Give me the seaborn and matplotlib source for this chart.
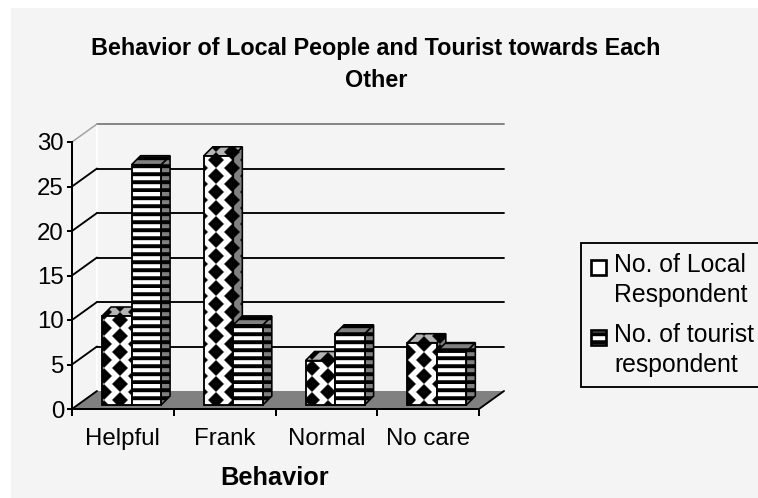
import matplotlib
matplotlib.use("Agg")
import matplotlib.pyplot as plt
import matplotlib.hatch as mhatch
import numpy as np
import pandas as pd
import seaborn as sns
from matplotlib.legend_handler import HandlerPatch
from matplotlib.patches import Patch, Polygon, Rectangle
from matplotlib.path import Path
from matplotlib.transforms import ScaledTranslation

categories = ["Helpful", "Frank", "Normal", "No care"]
local_values = [10, 28, 5, 7]
tourist_values = [27, 9, 8, 6]
series_names = ["No. of Local\nRespondent", "No. of tourist\nrespondent"]
y_ticks = [0, 5, 10, 15, 20, 25, 30]
title = "Behavior of Local People and Tourist towards Each\nOther"
x_label = "Behavior"

DPI = 96
W, H = 758, 498
BG = "#f4f4f4"
GRAY = "#808080"


class DiamondHatch(mhatch.HatchPatternBase):
    """Lattice of filled diamonds, 16 px apart at 96 dpi."""
    filled = True

    def __init__(self, hatch, density):
        self.num = 6 if hatch.count("*") else 0
        self.centers = []
        if self.num:
            for i in range(self.num):
                for j in range(-1, self.num + 1):
                    self.centers.append(((i + 0.5) / self.num,
                                         (j + 0.5 + 0.5 * (i % 2)) / self.num))
        self.num_vertices = len(self.centers) * 5

    def set_vertices_and_codes(self, vertices, codes):
        r = 7.6 / DPI
        shape = np.array([[0, -r], [r, 0], [0, r], [-r, 0], [0, -r]])
        for k, c in enumerate(self.centers):
            vertices[k * 5:k * 5 + 5] = shape + c
            codes[k * 5:k * 5 + 5] = [Path.MOVETO, Path.LINETO, Path.LINETO,
                                      Path.LINETO, Path.CLOSEPOLY]


class StripeHatch(mhatch.HatchPatternBase):
    """Horizontal filled stripes, 8 px period at 96 dpi."""
    filled = True

    def __init__(self, hatch, density):
        self.num = 12 if hatch.count("-") else 0
        self.num_vertices = self.num * 5

    def set_vertices_and_codes(self, vertices, codes):
        for k in range(self.num):
            y0 = k / self.num
            y1 = (k + 0.45) / self.num
            vertices[k * 5:k * 5 + 5] = [[0, y0], [1, y0], [1, y1], [0, y1], [0, y0]]
            codes[k * 5:k * 5 + 5] = [Path.MOVETO, Path.LINETO, Path.LINETO,
                                      Path.LINETO, Path.CLOSEPOLY]


mhatch._hatch_types[:] = [DiamondHatch, StripeHatch]

sns.set_theme(style="white")
plt.rcParams["font.family"] = ["Liberation Sans", "DejaVu Sans"]
plt.rcParams["hatch.linewidth"] = 0.3

fig = plt.figure(figsize=(W / DPI, H / DPI), dpi=DPI, facecolor="white")
fig.add_artist(Rectangle((11 / W, 0), 1 - 11 / W, 1 - 8 / H, transform=fig.transFigure,
                         facecolor=BG, edgecolor="none", zorder=-5))

AX_L, AX_R, AX_T, AX_B = 72, 479, 142, 409
ax = fig.add_axes([AX_L / W, 1 - AX_B / H, (AX_R - AX_L) / W, (AX_B - AX_T) / H])
ax.patch.set_alpha(0)

df = pd.DataFrame({
    "Behavior": categories * 2,
    "Count": local_values + tourist_values,
    "Series": [series_names[0]] * 4 + [series_names[1]] * 4,
})
sns.barplot(data=df, x="Behavior", y="Count", hue="Series", ax=ax, width=0.58, gap=0,
            palette=["white", "white"], legend=False, saturation=1)
ax.set_xlim(-0.5, 3.5)
ax.set_ylim(0, 30)

px_x = (AX_R - AX_L) / 4
px_y = (AX_B - AX_T) / 30


def shifted(dx, dy):
    return ax.transData + ScaledTranslation(dx / DPI, dy / DPI, fig.dpi_scale_trans)


# walls and floor
BACK_X, BACK_Y = 25, 18
bdx, bdy = BACK_X / px_x, BACK_Y / px_y
x0, x1 = ax.get_xlim()
ax.add_patch(Polygon([(x0, 0), (x1, 0), (x1 + bdx, bdy), (x0 + bdx, bdy)], closed=True,
                     facecolor=GRAY, edgecolor="none", zorder=1, clip_on=False))
ax.plot([x1, x1 + bdx], [0, bdy], color="black", lw=1.4, zorder=1.5, clip_on=False)
for v in y_ticks:
    top = v == y_ticks[-1]
    if v > 0:
        ax.plot([x0 + bdx, x1 + bdx], [v + bdy, v + bdy], clip_on=False, zorder=1,
                color=GRAY if top else "black", lw=1.4)
    ax.plot([x0, x0 + bdx], [v, v + bdy], clip_on=False, zorder=1.2,
            color="#a0a0a0" if top else "black", lw=1.1 if top else 1.4)
ax.plot([x0 + bdx, x0 + bdx], [bdy, y_ticks[-1] + bdy], color="white", lw=1.4,
        zorder=0.8, clip_on=False)

# 3-D bars
SHIFT = shifted(8.7, 4)
dx, dy = 9 / px_x, 9 / px_y
styles = [("*", "#b4b4b4", GRAY, 3), ("-", GRAY, GRAY, 4)]
for container, (hatch, top_c, side_c, z) in zip(ax.containers, styles):
    for r in container.patches:
        xa, w, h = r.get_x(), r.get_width(), r.get_height()
        xb = xa + w
        r.set(facecolor="white", edgecolor="black", hatch=hatch, linewidth=1.4,
              zorder=z, clip_on=False, transform=SHIFT)
        ax.add_patch(Polygon([(xb, 0), (xb + dx, dy), (xb + dx, h + dy), (xb, h)], closed=True,
                             facecolor=side_c, edgecolor="black", hatch=hatch, linewidth=1.2,
                             zorder=z - 0.1, clip_on=False, transform=SHIFT))
        ax.add_patch(Polygon([(xa, h), (xa + dx, h + dy), (xb + dx, h + dy), (xb, h)], closed=True,
                             facecolor=top_c, edgecolor="black", hatch=hatch, linewidth=1.2,
                             zorder=z - 0.1, clip_on=False, transform=SHIFT))

# axes
sns.despine(ax=ax, top=True, right=True)
for side in ("left", "bottom"):
    ax.spines[side].set(color="black", linewidth=1.5, zorder=6)
ax.set_yticks(y_ticks)
ax.set_xticks(np.arange(len(categories) + 1) - 0.5, [""] * (len(categories) + 1))
ax.set_xticks(np.arange(len(categories)), categories, minor=True)
ax.tick_params(axis="y", which="major", left=True, length=4, width=1.5, color="black",
               labelsize=18, labelcolor="black", pad=2)
ax.tick_params(axis="x", which="major", bottom=True, length=5, width=1.5, color="black")
ax.tick_params(axis="x", which="minor", bottom=False, labelsize=18, labelcolor="black", pad=10.5)
ax.set_xlabel("")
ax.set_ylabel("")

fig.text(376 / W, 1 - 64.5 / H, title, ha="center", va="center", fontsize=17.5,
         fontweight="bold", color="black", linespacing=1.5)
fig.text(275 / W, 1 - 478 / H, x_label, ha="center", va="center", fontsize=19,
         fontweight="bold", color="black")


# legend
def make_handle(legend, orig_handle, xdescent, ydescent, width, height, fontsize):
    return Rectangle((0, height * 0.5 + 4.5), 15 * 0.75, 15 * 0.75)


handles = [Patch(facecolor="white", edgecolor="black", linewidth=2),
           Patch(facecolor="white", edgecolor="black", linewidth=2, hatch="-")]
leg = fig.legend(handles, series_names, loc="upper left",
                 bbox_to_anchor=(581 / W, 1 - 243 / H), borderaxespad=0,
                 frameon=True, fancybox=False, framealpha=1, facecolor=BG, edgecolor="black",
                 fontsize=18.6, labelspacing=0.62, handlelength=0.6, handletextpad=0.32,
                 borderpad=0.42, labelcolor="black",
                 handler_map={Patch: HandlerPatch(patch_func=make_handle)})
leg.get_frame().set_linewidth(1.4)
for t in leg.get_texts():
    t.set_linespacing(1.32)

fig.savefig("out.png", dpi=DPI, facecolor=fig.get_facecolor())
